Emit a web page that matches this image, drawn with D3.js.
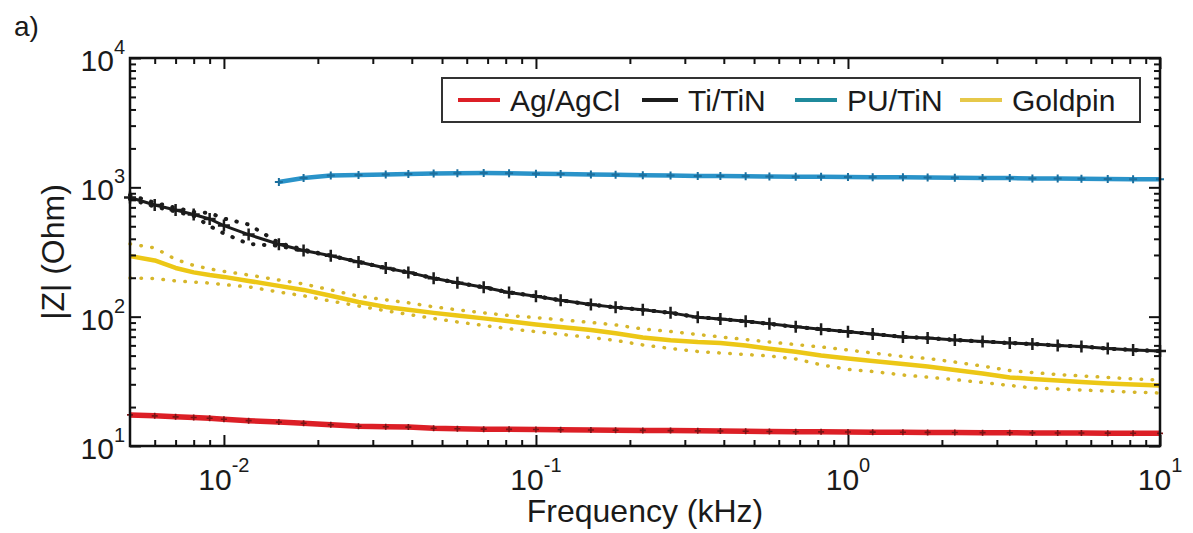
<!DOCTYPE html>
<html>
<head>
<meta charset="utf-8">
<script src="https://cdnjs.cloudflare.com/ajax/libs/d3/7.8.5/d3.min.js"></script>
<style>
  body { margin: 0; background: #fff; }
  text { font-family: "Liberation Sans", Arial, sans-serif; fill: #1a1a1a; }
</style>
</head>
<body>
<script>
// frequency points (kHz)
var freq = [0.005, 0.006, 0.007, 0.008, 0.009, 0.01, 0.012, 0.015, 0.018, 0.022, 0.027, 0.033, 0.039, 0.047, 0.056, 0.068, 0.082,
    0.1, 0.12, 0.15, 0.18, 0.22, 0.27, 0.33, 0.39, 0.47, 0.56, 0.68, 0.82,
    1, 1.2, 1.5, 1.8, 2.2, 2.7, 3.3, 3.9, 4.7, 5.6, 6.8, 8.2, 10];

// |Z| in Ohm
var agMean = [17.4, 17.1, 16.8, 16.6, 16.4, 16.1, 15.7, 15.3, 15.0, 14.6, 14.2, 14.1, 14.0, 13.7, 13.6, 13.5, 13.45,
    13.4, 13.35, 13.3, 13.25, 13.2, 13.15, 13.1, 13.05, 13.0, 12.95, 12.9, 12.87,
    12.84, 12.8, 12.77, 12.74, 12.71, 12.68, 12.65, 12.63, 12.61, 12.59, 12.57, 12.55, 12.53];

var tiMean = [834, 730, 668, 617, 569, 506, 431, 363, 325, 296, 265, 238, 220, 198, 183, 169, 154,
    144, 134, 124, 118, 113, 107, 99, 96, 92, 88, 83.4, 80,
    76.4, 73.5, 69.7, 68.4, 66, 64.3, 62.6, 61.5, 59.9, 58.8, 56.7, 55.2, 54.2];
var tiUpper = [870, 760, 695, 645, 634, 574, 516, 372, 330, 296, 265, 238, 220, 198, 183, 169, 154,
    144, 134, 124, 118, 113, 107, 99, 96, 92, 88, 83.4, 80,
    76.4, 73.5, 69.7, 68.4, 66, 64.3, 62.6, 61.5, 59.9, 58.8, 56.7, 55.2, 54.2];
var tiLower = [810, 710, 650, 600, 502, 440, 365, 353, 322, 296, 265, 238, 220, 198, 183, 169, 154,
    144, 134, 124, 118, 113, 107, 99, 96, 92, 88, 83.4, 80,
    76.4, 73.5, 69.7, 68.4, 66, 64.3, 62.6, 61.5, 59.9, 58.8, 56.7, 55.2, 54.2];

var puMean = [null, null, null, null, null, null, null, 1099, 1181, 1234, 1245, 1256, 1268, 1279, 1285, 1291, 1284,
    1275, 1268, 1256, 1250, 1241, 1233, 1224, 1222, 1218, 1214, 1210, 1206,
    1200, 1197, 1195, 1189, 1187, 1181, 1179, 1172, 1171, 1165, 1161, 1157, 1154];

var goldMean = [294, 272, 238, 220, 210, 203, 189, 173, 161, 145, 130, 119, 113, 107, 102, 97, 92,
    87, 83.3, 79, 74.3, 69, 65.8, 63.7, 62.6, 59.8, 56.5, 53.5, 50,
    47.5, 45.4, 43, 41.2, 38.7, 36.4, 33.9, 33, 32.1, 31.2, 30.4, 29.9, 29.4];
var goldUpper = [365, 340, 277, 249, 234, 224, 210, 192, 179, 161, 144, 135, 128, 119, 113, 107, 102,
    98.4, 94.6, 90.2, 86.4, 80.3, 76.8, 72.8, 69.7, 66.6, 63.7, 60.9, 58.3,
    55.2, 52.4, 49.2, 47.5, 44.6, 41.5, 38.3, 37, 35.7, 34.8, 33.9, 33, 32.4];
var goldLower = [199, 197, 189, 185, 182, 177, 170, 155, 145, 132, 121, 111, 104, 96.8, 91, 85.5, 80.7,
    76.6, 73.1, 69, 65.5, 60.4, 56.8, 53.8, 52.4, 51, 49.7, 47.1, 42.4,
    39.1, 37.7, 35.4, 34.1, 32.6, 31, 29.4, 28.1, 27.6, 27.1, 26.6, 26.1, 25.7];

var legendNames = ["Ag/AgCl", "Ti/TiN", "PU/TiN", "Goldpin"];
var xMajor = [0.01, 0.1, 1, 10],
    xMinor = [0.006, 0.007, 0.008, 0.009, 0.02, 0.03, 0.04, 0.05, 0.06, 0.07, 0.08, 0.09,
        0.2, 0.3, 0.4, 0.5, 0.6, 0.7, 0.8, 0.9, 2, 3, 4, 5, 6, 7, 8, 9],
    xLabels = [-2, -1, 0, 1];
var yMajor = [10, 100, 1000, 10000],
    yMinor = [20, 30, 40, 50, 60, 70, 80, 90, 200, 300, 400, 500, 600, 700, 800, 900,
        2000, 3000, 4000, 5000, 6000, 7000, 8000, 9000],
    yLabels = [1, 2, 3, 4];

var width = 1193,
    height = 533,
    margin = {left: 130, right: 33, top: 58, bottom: 87};

var svg = d3.select("body").append("svg")
    .attr("width", width)
    .attr("height", height);

var x = d3.scaleLog().domain([0.005, 10]).range([margin.left, width - margin.right]);
var y = d3.scaleLog().domain([10, 10000]).range([height - margin.bottom, margin.top]);

var x0 = x.range()[0], x1 = x.range()[1],
    y0 = y.range()[0], y1 = y.range()[1];

function lineOf(vals) {
    return d3.line()
        .defined(function (d, i) { return vals[i] != null; })
        .x(function (d, i) { return x(freq[i]); })
        .y(function (d, i) { return y(vals[i]); })(vals);
}

function plusMarks(vals, color, size, sw) {
    var pts = [];
    freq.forEach(function (f, i) {
        if (vals[i] != null) pts.push({f: f, v: vals[i]});
    });
    svg.append("g").selectAll("path")
        .data(pts)
        .enter().append("path")
        .attr("transform", function (d) { return "translate(" + x(d.f) + "," + y(d.v) + ")"; })
        .attr("d", "M" + (-size) + ",0H" + size + "M0," + (-size) + "V" + size)
        .attr("stroke", color)
        .attr("stroke-width", sw)
        .attr("fill", "none");
}

function dotted(vals, color, sw) {
    svg.append("path")
        .attr("d", lineOf(vals))
        .attr("fill", "none")
        .attr("stroke", color)
        .attr("stroke-width", sw)
        .attr("stroke-linecap", "round")
        .attr("stroke-dasharray", "0.5,10.5");
}

function solid(vals, color, sw) {
    svg.append("path")
        .attr("d", lineOf(vals))
        .attr("fill", "none")
        .attr("stroke", color)
        .attr("stroke-width", sw)
        .attr("stroke-linejoin", "round");
}

var colors = {ag: "#dc1f26", agDark: "#7a1416", ti: "#1c1c1c", pu: "#2a93c9", puDark: "#1b6f9e", gold: "#ecc716", goldDot: "#d6b62a"};

// Goldpin
dotted(goldUpper, colors.goldDot, 3.5);
dotted(goldLower, colors.goldDot, 3.5);
solid(goldMean, colors.gold, 4.5);

// Ti/TiN
dotted(tiUpper, colors.ti, 4);
dotted(tiLower, colors.ti, 4);
solid(tiMean, colors.ti, 3);
plusMarks(tiMean, colors.ti, 6, 2.5);

// PU/TiN
solid(puMean, colors.pu, 4.5);
plusMarks(puMean, colors.puDark, 4, 2);

// Ag/AgCl
solid(agMean, colors.ag, 5.5);
plusMarks(agMean, colors.agDark, 3, 1.6);

// ticks on all four sides, pointing in
function tickAxis(axis, vals, len, tr) {
    var g = svg.append("g")
        .attr("transform", tr)
        .call(axis.tickValues(vals).tickSize(-len).tickFormat(""));
    g.select(".domain").remove();
    g.selectAll("line").attr("stroke", "#111").attr("stroke-width", 2);
}
tickAxis(d3.axisBottom(x), xMajor, 11, "translate(0," + y0 + ")");
tickAxis(d3.axisBottom(x), xMinor, 6, "translate(0," + y0 + ")");
tickAxis(d3.axisTop(x), xMajor, 11, "translate(0," + y1 + ")");
tickAxis(d3.axisTop(x), xMinor, 6, "translate(0," + y1 + ")");
tickAxis(d3.axisLeft(y), yMajor, 11, "translate(" + x0 + ",0)");
tickAxis(d3.axisLeft(y), yMinor, 6, "translate(" + x0 + ",0)");
tickAxis(d3.axisRight(y), yMajor, 11, "translate(" + x1 + ",0)");
tickAxis(d3.axisRight(y), yMinor, 6, "translate(" + x1 + ",0)");

// frame
svg.append("rect")
    .attr("x", x0).attr("y", y1)
    .attr("width", x1 - x0).attr("height", y0 - y1)
    .attr("fill", "none")
    .attr("stroke", "#111")
    .attr("stroke-width", 2.5);

// tick labels 10^n
svg.append("g").selectAll("text")
    .data(xMajor)
    .enter().append("text")
    .attr("x", function (d) { return x(d); })
    .attr("y", y0 + 44)
    .attr("text-anchor", "middle")
    .style("font-size", "30px")
    .each(function (d, i) {
        var t = d3.select(this);
        t.append("tspan").text("10");
        t.append("tspan").attr("dy", -18).style("font-size", "20px").text(xLabels[i]);
    });

svg.append("g").selectAll("text")
    .data(yMajor)
    .enter().append("text")
    .attr("x", x0 - 5)
    .attr("y", function (d) { return y(d) + 13; })
    .attr("text-anchor", "end")
    .style("font-size", "30px")
    .each(function (d, i) {
        var t = d3.select(this);
        t.append("tspan").text("10");
        t.append("tspan").attr("dy", -17).style("font-size", "20px").text(yLabels[i]);
    });

// axis titles
svg.append("text")
    .attr("x", (x0 + x1) / 2)
    .attr("y", 522)
    .attr("text-anchor", "middle")
    .style("font-size", "32px")
    .text("Frequency (kHz)");

svg.append("text")
    .attr("transform", "translate(64," + ((y0 + y1) / 2) + ") rotate(-90)")
    .attr("text-anchor", "middle")
    .style("font-size", "32px")
    .text("|Z| (Ohm)");

svg.append("text")
    .attr("x", 14)
    .attr("y", 36)
    .style("font-size", "28px")
    .text("a)");

// legend
var legend = svg.append("g");
legend.append("rect")
    .attr("x", 442).attr("y", 78)
    .attr("width", 698).attr("height", 44)
    .attr("fill", "#fff")
    .attr("stroke", "#333")
    .attr("stroke-width", 2);

var legX = [458, 642, 795, 960],
    legColors = [colors.ag, colors.ti, "#1f8a9c", "#e6c84a"];
legendNames.forEach(function (name, i) {
    legend.append("line")
        .attr("x1", legX[i]).attr("x2", legX[i] + (i === 1 ? 36 : 42))
        .attr("y1", 100).attr("y2", 100)
        .attr("stroke", legColors[i])
        .attr("stroke-width", 4);
    legend.append("text")
        .attr("x", legX[i] + (i === 1 ? 46 : 52))
        .attr("y", 111)
        .style("font-size", "30px")
        .text(name);
});
</script>
</body>
</html>
